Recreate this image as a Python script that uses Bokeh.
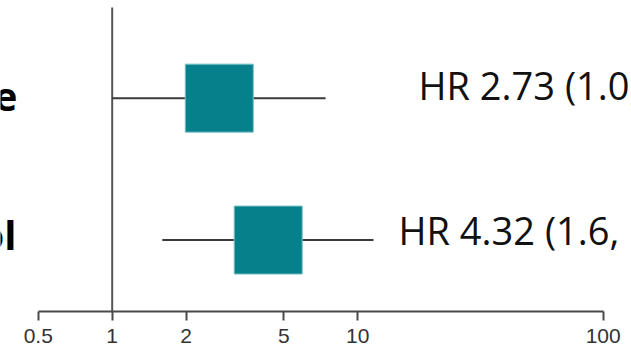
from bokeh.plotting import figure
from bokeh.models import Range1d, FixedTicker, CustomJSTickFormatter
from bokeh.core.properties import value
from bokeh.embed import file_html
from bokeh.resources import INLINE

# Hazard ratios with 95% confidence intervals, one row per group
groups = ["Caffeine", "Alcohol"]
hr = [2.73, 4.32]
ci_low = [1.0, 1.6]
ci_high = [7.4, 11.6]
rows = [2, 1]
ticks = [0.5, 1, 2, 5, 10, 100]
ref_value = 1

labels = [f"HR {h:.2f} ({lo:.1f}, {hi:.1f})" for h, lo, hi in zip(hr, ci_low, ci_high)]

# layout constants
X_START, X_END = 0.3508, 130.4
Y_START, Y_END = 0.4965, 2.688
REF_TOP = 2.638
TEAL = "#06808B"

p = figure(
    width=631, height=345,
    x_axis_type="log",
    x_range=Range1d(X_START, X_END),
    y_range=Range1d(Y_START, Y_END),
    y_axis_location=None,
    output_backend="svg",
    toolbar_location=None,
    min_border=0,
    outline_line_color=None,
    background_fill_color="white",
    border_fill_color="white",
)
p.grid.visible = False

ax = p.xaxis[0]
ax.ticker = FixedTicker(ticks=ticks, minor_ticks=[])
ax.formatter = CustomJSTickFormatter(code="return String(tick);")
ax.bounds = (min(ticks), max(ticks))
ax.axis_line_color = "#4a4a4a"
ax.axis_line_width = 2
ax.major_tick_line_color = "#4a4a4a"
ax.major_tick_line_width = 2
ax.major_tick_out = 9
ax.major_tick_in = 0
ax.minor_tick_out = 0
ax.minor_tick_in = 0
ax.major_label_standoff = 8
ax.major_label_text_font = "Liberation Sans"
ax.major_label_text_font_size = "21px"
ax.major_label_text_color = "#333333"

# line of no effect
p.segment(x0=[ref_value], y0=[Y_START], x1=[ref_value], y1=[REF_TOP],
          line_color="#555555", line_width=2)

# confidence intervals
p.segment(x0=ci_low, y0=rows, x1=ci_high, y1=rows,
          line_color="#3a3a3a", line_width=2)

# point estimates
p.scatter(x=hr, y=rows, marker="square", size=68,
          fill_color=TEAL, line_color="#7cc2c7", line_width=1)

# estimate labels on the right
p.text(x=[X_START] * len(rows), y=rows, text=labels,
       x_offset=[418, 398], y_offset=[-13, -10],
       text_font=value("Open Sans"), text_font_size="38px",
       text_align="left", text_baseline="alphabetic", text_color="#111111")

# group names on the left
p.text(x=[X_START] * len(rows), y=rows, text=groups,
       x_offset=[17, 16], y_offset=[-3, -6],
       text_font=value("Open Sans"), text_font_size="40px", text_font_style="bold",
       text_align="right", text_baseline="alphabetic", text_color="#000000")

open("out.html", "w").write(file_html(p, INLINE))
